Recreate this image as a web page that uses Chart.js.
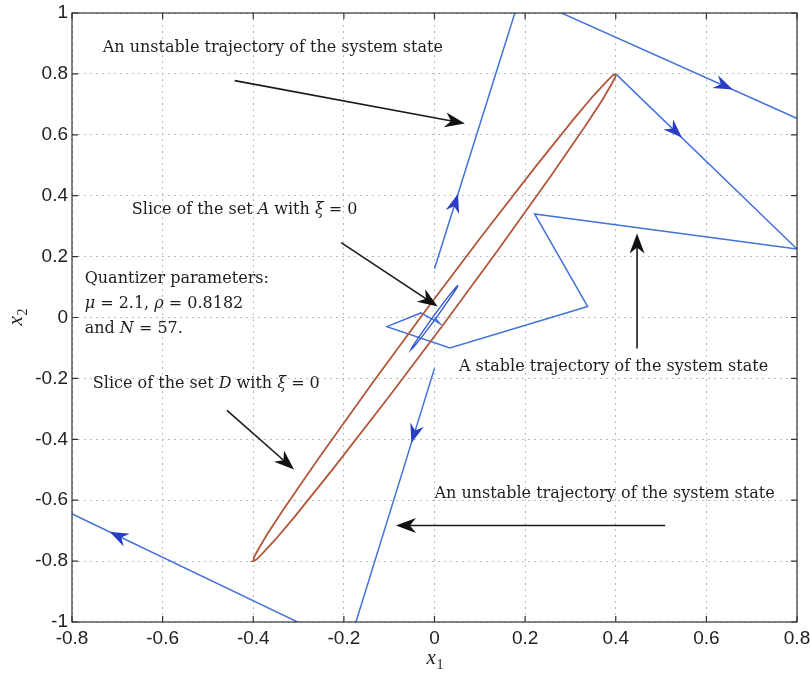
<!DOCTYPE html>
<html>
<head>
<meta charset="utf-8">
<script src="https://cdn.jsdelivr.net/npm/chart.js@4.4.1/dist/chart.umd.min.js"></script>
<style>
  html, body { margin: 0; padding: 0; background: #fff; }
</style>
</head>
<body>
<canvas id="chart" width="810" height="674"></canvas>
<script>
// tick values
const xTicks = [-0.8, -0.6, -0.4, -0.2, 0, 0.2, 0.4, 0.6, 0.8];
const yTicks = [-1, -0.8, -0.6, -0.4, -0.2, 0, 0.2, 0.4, 0.6, 0.8, 1];

// slice of the set D (brown, thin ellipse, pointed ends at +-(0.4, 0.8))
const setD_x = [0.400, 0.399, 0.389, 0.369, 0.332, 0.256, 0.139, 0.020, -0.101, -0.224, -0.308, -0.351, -0.379, -0.393, -0.400,
                -0.399, -0.389, -0.369, -0.332, -0.256, -0.139, -0.020, 0.101, 0.224, 0.308, 0.351, 0.379, 0.393, 0.400];
const setD_y = [0.800, 0.789, 0.762, 0.711, 0.627, 0.463, 0.219, -0.022, -0.261, -0.497, -0.653, -0.729, -0.774, -0.795, -0.800,
                -0.789, -0.762, -0.711, -0.627, -0.463, -0.219, 0.022, 0.261, 0.497, 0.653, 0.729, 0.774, 0.795, 0.800];

// slice of the set A (small blue ellipse)
const setA_x = [0.052, 0.048, 0.033, 0.003, -0.029, -0.046, -0.052, -0.048, -0.033, -0.003, 0.029, 0.046, 0.052];
const setA_y = [0.106, 0.094, 0.061, -0.003, -0.066, -0.097, -0.106, -0.094, -0.061, 0.003, 0.066, 0.097, 0.106];

// stable trajectory
const stable_x = [0.400, 0.800, 0.221, 0.338, 0.034, -0.105, -0.030, 0.012, 0.000];
const stable_y = [0.800, 0.225, 0.340, 0.036, -0.100, -0.030, 0.015, -0.020, 0.000];

// unstable trajectories (leave the window)
const unstUp_x = [0.000, 0.190, 1.150];
const unstUp_y = [0.160, 1.060, 0.421];
const unstDown_x = [0.000, -0.190, -1.150];
const unstDown_y = [-0.167, -1.080, -0.395];

// blue arrowheads on trajectories: [tipX, tipY, fromX, fromY]
const flowArrows = [
  [0.052, 0.406, 0.000, 0.160],
  [0.658, 0.749, 0.190, 1.060],
  [0.546, 0.591, 0.400, 0.800],
  [-0.051, -0.412, 0.000, -0.167],
  [-0.717, -0.704, -0.190, -1.080]
];

// black annotation arrows: [x0, y0, x1, y1]
const noteArrows = [
  [-0.441, 0.778, 0.067, 0.637],
  [-0.206, 0.246, 0.007, 0.036],
  [-0.458, -0.305, -0.310, -0.499],
  [0.447, -0.102, 0.447, 0.276],
  [0.509, -0.683, -0.085, -0.683]
];

// annotation texts: [x, y(middle), segments]  (segment = [text, italic])
const notes = [
  [-0.732, 0.887, [['An unstable trajectory of the system state', 0]]],
  [-0.668, 0.355, [['Slice of the set ', 0], ['A', 1], [' with ', 0], ['\u03BE', 1], [' = 0', 0]]],
  [-0.772, 0.128, [['Quantizer parameters:', 0]]],
  [-0.772, 0.046, [['\u03BC', 1], [' = 2.1, ', 0], ['\u03C1', 1], [' = 0.8182', 0]]],
  [-0.772, -0.036, [['and ', 0], ['N', 1], [' = 57.', 0]]],
  [-0.754, -0.217, [['Slice of the set ', 0], ['D', 1], [' with ', 0], ['\u03BE', 1], [' = 0', 0]]],
  [0.054, -0.161, [['A stable trajectory of the system state', 0]]],
  [0.000, -0.578, [['An unstable trajectory of the system state', 0]]]
];

const pts = (xs, ys) => xs.map((x, i) => ({x: x, y: ys[i]}));

const SERIF = '"DejaVu Serif", "Liberation Serif", serif';

function head(ctx, tx, ty, ang, L, W, N) {
  const ux = Math.cos(ang), uy = Math.sin(ang);
  const nx = -uy, ny = ux;
  ctx.beginPath();
  ctx.moveTo(tx, ty);
  ctx.lineTo(tx - L * ux + W * nx, ty - L * uy + W * ny);
  ctx.lineTo(tx - (L - N) * ux, ty - (L - N) * uy);
  ctx.lineTo(tx - L * ux - W * nx, ty - L * uy - W * ny);
  ctx.closePath();
  ctx.fill();
}

function rich(ctx, segs, x, y, size) {
  let cx = x;
  ctx.textBaseline = 'middle';
  ctx.textAlign = 'left';
  segs.forEach(s => {
    ctx.font = (s[1] ? 'italic ' : '') + size + 'px ' + SERIF;
    ctx.fillText(s[0], cx, y);
    cx += ctx.measureText(s[0]).width;
  });
}

const overlay = {
  id: 'overlay',
  afterDatasetsDraw(chart) {
    const {ctx, scales: {x, y}} = chart;
    ctx.save();
    ctx.fillStyle = '#2a3ec4';
    flowArrows.forEach(a => {
      const tx = x.getPixelForValue(a[0]), ty = y.getPixelForValue(a[1]);
      const fx = x.getPixelForValue(a[2]), fy = y.getPixelForValue(a[3]);
      head(ctx, tx, ty, Math.atan2(ty - fy, tx - fx), 19, 7, 6);
    });
    ctx.restore();
  },
  afterDraw(chart) {
    const {ctx, chartArea: a, scales: {x, y}} = chart;
    ctx.save();

    // frame and inward ticks on all sides
    ctx.strokeStyle = '#333';
    ctx.lineWidth = 1.2;
    ctx.strokeRect(a.left, a.top, a.right - a.left, a.bottom - a.top);
    ctx.beginPath();
    xTicks.forEach(v => {
      const px = x.getPixelForValue(v);
      ctx.moveTo(px, a.bottom); ctx.lineTo(px, a.bottom - 6);
      ctx.moveTo(px, a.top); ctx.lineTo(px, a.top + 6);
    });
    yTicks.forEach(v => {
      const py = y.getPixelForValue(v);
      ctx.moveTo(a.left, py); ctx.lineTo(a.left + 6, py);
      ctx.moveTo(a.right, py); ctx.lineTo(a.right - 6, py);
    });
    ctx.stroke();

    // annotation arrows
    ctx.strokeStyle = '#1a1a1a';
    ctx.fillStyle = '#111';
    ctx.lineWidth = 1.6;
    noteArrows.forEach(n => {
      const x0 = x.getPixelForValue(n[0]), y0 = y.getPixelForValue(n[1]);
      const x1 = x.getPixelForValue(n[2]), y1 = y.getPixelForValue(n[3]);
      const ang = Math.atan2(y1 - y0, x1 - x0);
      ctx.beginPath();
      ctx.moveTo(x0, y0);
      ctx.lineTo(x1 - 12 * Math.cos(ang), y1 - 12 * Math.sin(ang));
      ctx.stroke();
      head(ctx, x1, y1, ang, 20, 7.5, 6);
    });

    // annotation texts
    ctx.fillStyle = '#1e1e1e';
    notes.forEach(t => {
      rich(ctx, t[2], x.getPixelForValue(t[0]), y.getPixelForValue(t[1]), 16);
    });

    // axis labels x1, x2
    ctx.fillStyle = '#222';
    ctx.textBaseline = 'alphabetic';
    ctx.textAlign = 'left';
    const cx = (a.left + a.right) / 2;
    ctx.font = 'italic 21px "Liberation Serif", serif';
    ctx.fillText('x', cx - 8, 664);
    ctx.font = '14px "Liberation Serif", serif';
    ctx.fillText('1', cx + 2, 669);

    ctx.translate(22, (a.top + a.bottom) / 2);
    ctx.rotate(-Math.PI / 2);
    ctx.font = 'italic 21px "Liberation Serif", serif';
    ctx.fillText('x', -8, 0);
    ctx.font = '14px "Liberation Serif", serif';
    ctx.fillText('2', 2, 5);
    ctx.restore();
  }
};

const ctx = document.getElementById('chart').getContext('2d');

new Chart(ctx, {
  type: 'scatter',
  data: {
    datasets: [
      {
        label: 'Slice of D',
        data: pts(setD_x, setD_y),
        showLine: true,
        borderColor: '#b3573b',
        borderWidth: 1.8,
        pointRadius: 0,
        tension: 0
      },
      {
        label: 'Slice of A',
        data: pts(setA_x, setA_y),
        showLine: true,
        borderColor: '#3558d6',
        borderWidth: 1.4,
        pointRadius: 0,
        tension: 0
      },
      {
        label: 'Stable trajectory',
        data: pts(stable_x, stable_y),
        showLine: true,
        borderColor: '#4472d8',
        borderWidth: 1.5,
        pointRadius: 0,
        tension: 0
      },
      {
        label: 'Unstable trajectory (up)',
        data: pts(unstUp_x, unstUp_y),
        showLine: true,
        borderColor: '#4472d8',
        borderWidth: 1.5,
        pointRadius: 0,
        tension: 0
      },
      {
        label: 'Unstable trajectory (down)',
        data: pts(unstDown_x, unstDown_y),
        showLine: true,
        borderColor: '#4472d8',
        borderWidth: 1.5,
        pointRadius: 0,
        tension: 0
      }
    ]
  },
  options: {
    responsive: false,
    animation: false,
    events: [],
    layout: {
      padding: {left: 0, right: 13, top: 13, bottom: 0}
    },
    scales: {
      x: {
        type: 'linear',
        min: -0.8,
        max: 0.8,
        afterBuildTicks: s => { s.ticks = xTicks.map(v => ({value: v})); },
        afterFit: s => { s.height = 52; s.paddingLeft = 0; s.paddingRight = 0; },
        ticks: {
          padding: 5,
          color: '#222',
          font: {family: '"Liberation Sans", Arial, sans-serif', size: 19},
          maxRotation: 0,
          callback: v => String(v)
        },
        grid: {color: '#aebfcf', lineWidth: 1, drawTicks: false},
        border: {display: false, dash: [2, 4]}
      },
      y: {
        type: 'linear',
        min: -1,
        max: 1,
        afterBuildTicks: s => { s.ticks = yTicks.map(v => ({value: v})); },
        afterFit: s => { s.width = 72; s.paddingTop = 0; s.paddingBottom = 0; },
        ticks: {
          padding: 4,
          color: '#222',
          font: {family: '"Liberation Sans", Arial, sans-serif', size: 19},
          callback: v => String(v)
        },
        grid: {color: '#aebfcf', lineWidth: 1, drawTicks: false},
        border: {display: false, dash: [2, 4]}
      }
    },
    plugins: {
      legend: {display: false},
      tooltip: {enabled: false}
    }
  },
  plugins: [overlay]
});
</script>
</body>
</html>
